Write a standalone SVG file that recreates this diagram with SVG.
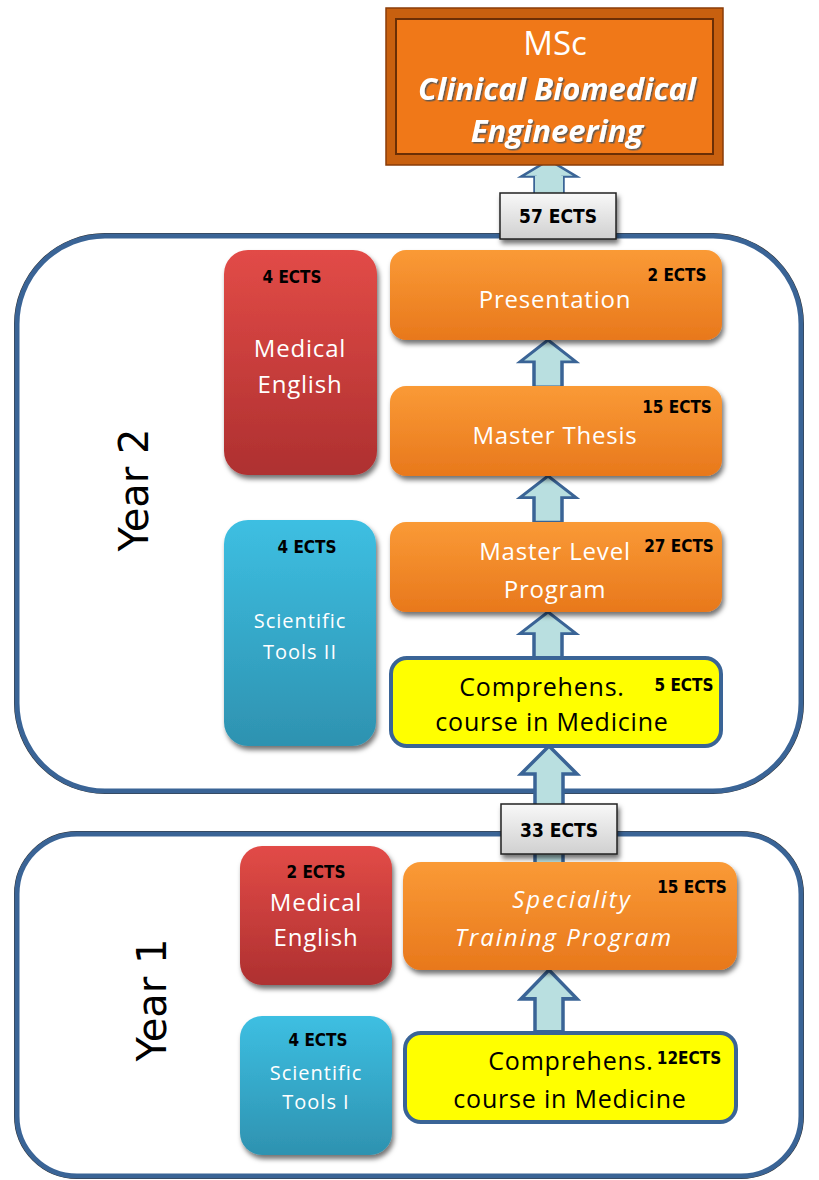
<svg xmlns="http://www.w3.org/2000/svg" width="819" height="1180" viewBox="0 0 819 1180">
<defs>
<linearGradient id="gRed" x1="0" y1="0" x2="0" y2="1"><stop offset="0" stop-color="#e24b47"/><stop offset="1" stop-color="#ae3030"/></linearGradient>
<linearGradient id="gCyan" x1="0" y1="0" x2="0" y2="1"><stop offset="0" stop-color="#3dbfe2"/><stop offset="1" stop-color="#2e92b0"/></linearGradient>
<linearGradient id="gOrange" x1="0" y1="0" x2="0" y2="1"><stop offset="0" stop-color="#fa9a36"/><stop offset="1" stop-color="#e8781c"/></linearGradient>
<linearGradient id="gGray" x1="0" y1="0" x2="0" y2="1"><stop offset="0" stop-color="#f8f8f8"/><stop offset="1" stop-color="#d0d0d0"/></linearGradient>
<filter id="sh" x="-10%" y="-10%" width="125%" height="130%"><feDropShadow dx="2" dy="4" stdDeviation="2.5" flood-color="#000" flood-opacity="0.55"/></filter>
<filter id="tsh" x="-5%" y="-5%" width="110%" height="120%"><feDropShadow dx="1.5" dy="1.5" stdDeviation="0.6" flood-color="#555" flood-opacity="0.9"/></filter>
<path id="arrowShape" d="M0,0 L-28,28 L-14,28 L-14,60 L14,60 L14,28 L28,28 Z"/>
</defs>
<style>
.yearbox{fill:#fff;stroke:#3a6496;stroke-width:5}
.yearout{fill:none;stroke:#333;stroke-width:2}
.yr{font-family:"DejaVu Sans","Liberation Sans",sans-serif;font-size:40px;fill:#000;text-anchor:middle}
.lbl{font-family:"Open Sans","Liberation Sans",sans-serif;font-size:24px;letter-spacing:0.8px;fill:#fff;text-anchor:middle}
.lblk{font-family:"Open Sans","Liberation Sans",sans-serif;font-size:25px;letter-spacing:0.8px;fill:#000;text-anchor:middle}
.it{font-style:italic;letter-spacing:2px}
.sm{font-family:"Open Sans","Liberation Sans",sans-serif;font-size:20px;letter-spacing:1px;fill:#fff;text-anchor:middle}
.ects{font-family:"DejaVu Sans Condensed","Liberation Sans Narrow","Liberation Sans",sans-serif;font-weight:bold;font-size:17px;fill:#000;text-anchor:middle}
.big{font-size:19px}
.msc{font-family:"Open Sans","Liberation Sans",sans-serif;font-size:31px;fill:#fff;text-anchor:middle;font-style:italic;font-weight:bold}
.red{fill:url(#gRed);filter:url(#sh)}
.cyan{fill:url(#gCyan);filter:url(#sh)}
.orange{fill:url(#gOrange);filter:url(#sh)}
.yellow{fill:#ffff00;stroke:#3a6496;stroke-width:4}
.arr{fill:#b9dfe0;stroke:#3a6496;stroke-width:3.5;stroke-linejoin:miter}
.tag{fill:url(#gGray);stroke:#222;stroke-width:1.5;filter:url(#sh)}
</style>

<g id="year2">
<rect x="15" y="234" width="788" height="559" rx="90" class="yearout"/>
<rect x="17" y="236" width="784" height="555" rx="88" class="yearbox"/>
<text class="yr" transform="translate(148,490) rotate(-90)">Year 2</text>
</g>
<g id="year1">
<rect x="15" y="832" width="788" height="346" rx="62" class="yearout"/>
<rect x="17" y="834" width="784" height="342" rx="60" class="yearbox"/>
<text class="yr" transform="translate(166,1000) rotate(-90)">Year 1</text>
</g>

<g id="connectors">
<use href="#arrowShape" transform="translate(549,160) scale(1,0.6)" class="arr"/>
<rect x="535" y="176" width="28" height="20" fill="#b9dfe0"/>
<use href="#arrowShape" class="arr" transform="translate(548,340) scale(1,0.78)"/>
<use href="#arrowShape" class="arr" transform="translate(548,476) scale(1,0.77)"/>
<use href="#arrowShape" class="arr" transform="translate(548,612) scale(1,0.77)"/>
<path class="arr" d="M549,746 L521,774 L535,774 L535,864 L563,864 L563,774 L577,774 Z"/>
<use href="#arrowShape" class="arr" transform="translate(549,970) scale(1,1.03)"/>
</g>

<g id="msc">
<rect x="386" y="8" width="337" height="157" fill="#c8600f" stroke="#8a3d08" stroke-width="1.5"/>
<rect x="396" y="19" width="317" height="135" fill="#f07818" stroke="#6a2e05" stroke-width="2"/>
<text x="555" y="55" style="font-family:'Open Sans','Liberation Sans',sans-serif;font-size:33px;fill:#fff;text-anchor:middle">MSc</text>
<text x="557" y="100" class="msc" filter="url(#tsh)">Clinical Biomedical</text>
<text x="557" y="142" class="msc" filter="url(#tsh)">Engineering</text>
</g>

<g id="ects57">
<rect x="500" y="193" width="116" height="46" class="tag"/>
<text x="558" y="223" class="ects big">57 ECTS</text>
</g>

<g id="y2-medical-english">
<rect x="224" y="250" width="153" height="225" rx="24" class="red"/>
<text x="292" y="283" class="ects">4 ECTS</text>
<text x="300" y="357" class="lbl">Medical</text>
<text x="300" y="393" class="lbl">English</text>
</g>
<g id="y2-presentation">
<rect x="390" y="250" width="332" height="90" rx="16" class="orange"/>
<text x="677" y="281" class="ects">2 ECTS</text>
<text x="555" y="308" class="lbl">Presentation</text>
</g>
<g id="y2-thesis">
<rect x="390" y="386" width="332" height="90" rx="16" class="orange"/>
<text x="677" y="413" class="ects">15 ECTS</text>
<text x="555" y="444" class="lbl">Master Thesis</text>
</g>
<g id="y2-master-level">
<rect x="390" y="522" width="332" height="90" rx="16" class="orange"/>
<text x="679" y="552" class="ects">27 ECTS</text>
<text x="555" y="560" class="lbl">Master Level</text>
<text x="555" y="598" class="lbl">Program</text>
</g>
<g id="y2-scientific-tools">
<rect x="224" y="520" width="152" height="226" rx="24" class="cyan"/>
<text x="307" y="553" class="ects">4 ECTS</text>
<text x="300" y="628" class="sm">Scientific</text>
<text x="300" y="659" class="sm">Tools II</text>
</g>
<g id="y2-comprehensive">
<rect x="391" y="658" width="330" height="88" rx="16" class="yellow"/>
<text x="684" y="691" class="ects">5 ECTS</text>
<text x="542" y="696" class="lblk">Comprehens.</text>
<text x="552" y="731" class="lblk">course in Medicine</text>
</g>

<g id="ects33">
<rect x="501" y="804" width="116" height="50" class="tag"/>
<text x="559" y="837" class="ects big">33 ECTS</text>
</g>

<g id="y1-medical-english">
<rect x="240" y="846" width="152" height="139" rx="22" class="red"/>
<text x="316" y="878" class="ects">2 ECTS</text>
<text x="316" y="911" class="lbl">Medical</text>
<text x="316" y="946" class="lbl">English</text>
</g>
<g id="y1-speciality">
<rect x="403" y="862" width="334" height="108" rx="18" class="orange"/>
<text x="692" y="893" class="ects">15 ECTS</text>
<text x="572" y="908" class="lbl it">Speciality</text>
<text x="564" y="946" class="lbl it">Training Program</text>
</g>
<g id="y1-scientific-tools">
<rect x="240" y="1016" width="152" height="139" rx="22" class="cyan"/>
<text x="318" y="1046" class="ects">4 ECTS</text>
<text x="316" y="1080" class="sm">Scientific</text>
<text x="316" y="1109" class="sm">Tools I</text>
</g>
<g id="y1-comprehensive">
<rect x="405" y="1033" width="331" height="89" rx="16" class="yellow"/>
<text x="689" y="1064" class="ects">12ECTS</text>
<text x="571" y="1070" class="lblk">Comprehens.</text>
<text x="570" y="1108" class="lblk">course in Medicine</text>
</g>
</svg>
